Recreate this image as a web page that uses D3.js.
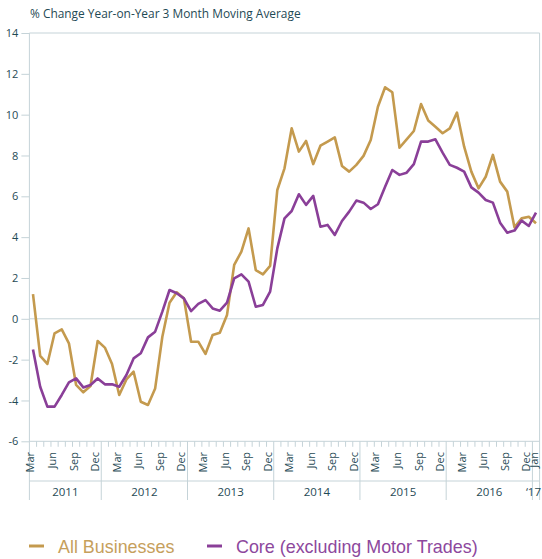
<!DOCTYPE html>
<html><head><meta charset="utf-8">
<script src="https://cdn.jsdelivr.net/npm/d3@7"></script>
<style>body{margin:0;background:#fff}svg{display:block}</style>
</head><body>
<svg id="c" width="542" height="559"></svg>
<script>
const categories = [
"2011-03","2011-04","2011-05","2011-06","2011-07","2011-08","2011-09","2011-10","2011-11","2011-12",
"2012-01","2012-02","2012-03","2012-04","2012-05","2012-06","2012-07","2012-08","2012-09","2012-10","2012-11","2012-12",
"2013-01","2013-02","2013-03","2013-04","2013-05","2013-06","2013-07","2013-08","2013-09","2013-10","2013-11","2013-12",
"2014-01","2014-02","2014-03","2014-04","2014-05","2014-06","2014-07","2014-08","2014-09","2014-10","2014-11","2014-12",
"2015-01","2015-02","2015-03","2015-04","2015-05","2015-06","2015-07","2015-08","2015-09","2015-10","2015-11","2015-12",
"2016-01","2016-02","2016-03","2016-04","2016-05","2016-06","2016-07","2016-08","2016-09","2016-10","2016-11","2016-12",
"2017-01"];
const allBusinesses = [
1.21,-1.82,-2.21,-0.71,-0.52,-1.2,-3.24,-3.6,-3.29,-1.09,
-1.41,-2.21,-3.73,-2.97,-2.59,-4.06,-4.22,-3.41,-0.88,0.79,1.3,1.0,
-1.12,-1.12,-1.72,-0.79,-0.68,0.19,2.64,3.29,4.43,2.39,2.18,2.59,
6.31,7.37,9.33,8.19,8.71,7.58,8.48,8.68,8.89,7.49,7.21,7.54,
7.98,8.76,10.39,11.34,11.1,8.38,8.79,9.2,10.52,9.71,9.41,9.09,
9.33,10.1,8.43,7.21,6.39,6.96,8.03,6.72,6.23,4.48,4.92,5.0,
4.68];
const core = [
-1.5,-3.33,-4.3,-4.3,-3.73,-3.11,-2.92,-3.36,-3.24,-2.92,
-3.21,-3.21,-3.33,-2.75,-1.94,-1.69,-0.91,-0.63,0.35,1.41,1.25,1.0,
0.38,0.73,0.92,0.51,0.4,0.79,1.98,2.18,1.82,0.59,0.68,1.33,
3.45,4.92,5.28,6.1,5.58,6.02,4.51,4.6,4.11,4.79,5.25,5.79,
5.69,5.38,5.61,6.47,7.29,7.05,7.16,7.58,8.68,8.68,8.79,8.14,
7.54,7.4,7.21,6.44,6.18,5.82,5.69,4.71,4.22,4.32,4.81,4.55,
5.2];
const yTicks = [-6,-4,-2,0,2,4,6,8,10,12,14];
const monthNames = ["Jan","Feb","Mar","Apr","May","Jun","Jul","Aug","Sep","Oct","Nov","Dec"];
const labelledMonths = ["Mar","Jun","Sep","Dec"];
const yearKeys = ["2011","2012","2013","2014","2015","2016","2017"];
const yearLabels = ["2011","2012","2013","2014","2015","2016","\u201817"];
const seriesNames = ["All Businesses","Core (excluding Motor Trades)"];
const chartTitle = "% Change Year-on-Year 3 Month Moving Average";

(function () {
const colors = ["#c49a4e","#8a3f98"];
const textColors = ["#c6a05c","#8d489d"];
const axisColor = "#c5d3d8";
const textColor = "#1f4a55";
const font = "'Open Sans', sans-serif";
const W = 542;

const svg = d3.select("#c");
const pLeft = 29.4, pRight = 539.6, pTop = 33, pBottom = 441.3, axisBottom = 500;

const x = d3.scaleBand().domain(categories).range([pLeft, pRight]).padding(0);
const xc = c => x(c) + x.bandwidth() / 2;
const y = d3.scaleLinear().domain([-6, 14]).range([pBottom, pTop]);

svg.append("text").attr("x", 30).attr("y", 18).attr("fill", textColor)
  .style("font-family", font).style("font-size", "11.9px").text(chartTitle);

const yAxis = d3.axisLeft(y).tickValues(yTicks).tickSize(8).tickPadding(3).tickFormat(d => String(d));
const ya = svg.append("g").attr("transform", `translate(${pLeft},0)`).call(yAxis);
ya.select(".domain").remove();
ya.selectAll(".tick line").attr("stroke", axisColor);
ya.selectAll(".tick text").attr("fill", textColor).style("font-family", font).style("font-size", "11px");

svg.append("line").attr("x1", pLeft).attr("x2", pLeft).attr("y1", pTop).attr("y2", axisBottom).attr("stroke", axisColor);
svg.append("line").attr("x1", pRight).attr("x2", pRight).attr("y1", pTop).attr("y2", axisBottom).attr("stroke", axisColor);
[14, 0, -6].forEach(v => {
  svg.append("line").attr("x1", pLeft).attr("x2", pRight).attr("y1", y(v)).attr("y2", y(v)).attr("stroke", axisColor);
});
svg.append("line").attr("x1", pLeft).attr("x2", pRight).attr("y1", 481).attr("y2", 481).attr("stroke", axisColor);

const g = svg.append("g");
categories.forEach((c, i) => {
  if (i === 0) return;
  const isYearStart = c.slice(5) === "01";
  g.append("line").attr("x1", x(c)).attr("x2", x(c))
    .attr("y1", pBottom).attr("y2", isYearStart ? axisBottom : pBottom + 5.5)
    .attr("stroke", axisColor);
});

categories.forEach((c, i) => {
  const m = monthNames[+c.slice(5) - 1];
  if (labelledMonths.includes(m) || i === categories.length - 1) {
    const tx = xc(c) + 1.5, ty = 452;
    g.append("text").attr("transform", `translate(${tx},${ty}) rotate(-90)`)
      .attr("text-anchor", "end").attr("fill", textColor)
      .style("font-family", font).style("font-size", "11px").text(m);
  }
});

yearKeys.forEach((yk, j) => {
  const cats = categories.filter(c => c.startsWith(yk));
  const x0 = x(cats[0]), x1 = x(cats[cats.length - 1]) + x.bandwidth();
  const t = g.append("text").attr("y", 496).attr("text-anchor", "middle")
    .attr("fill", textColor).style("font-family", font).style("font-size", "11.5px").text(yearLabels[j]);
  const w = t.node().getComputedTextLength();
  t.attr("x", Math.min((x0 + x1) / 2, W - 1 - w / 2));
});

const line = d3.line().x((d, i) => xc(categories[i])).y(d => y(d));
[allBusinesses, core].forEach((s, k) => {
  svg.append("path").datum(s).attr("d", line).attr("fill", "none")
    .attr("stroke", colors[k]).attr("stroke-width", 2.6).attr("stroke-linejoin", "round");
});

const legendX = [29, 207];
seriesNames.forEach((n, k) => {
  svg.append("line").attr("x1", legendX[k]).attr("x2", legendX[k] + 15).attr("y1", 546).attr("y2", 546)
    .attr("stroke", colors[k]).attr("stroke-width", 3);
  svg.append("text").attr("x", legendX[k] + 29).attr("y", 552.5).attr("fill", textColors[k])
    .style("font-family", "'Liberation Sans', Arial, sans-serif").style("font-size", "17.9px").text(n);
});
})();
</script>
</body></html>
